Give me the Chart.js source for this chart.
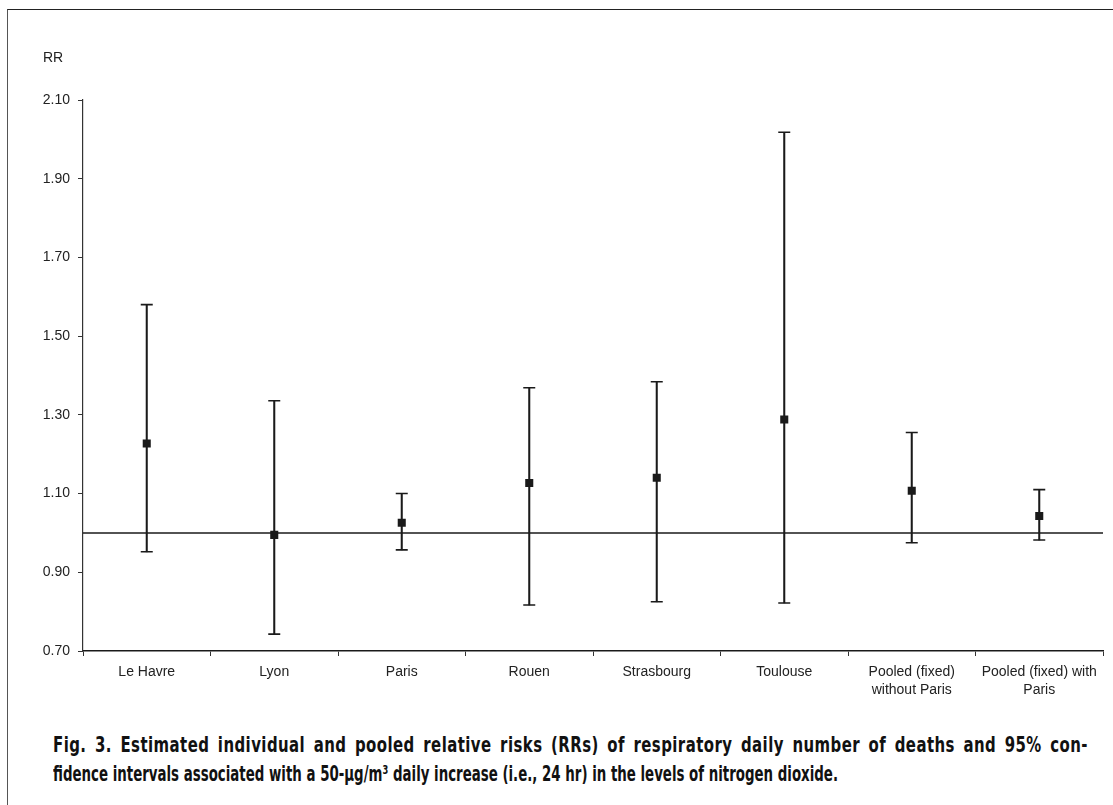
<!DOCTYPE html>
<html>
<head>
<meta charset="utf-8">
<title>Fig. 3 RR nitrogen dioxide</title>
<script src="https://cdn.jsdelivr.net/npm/chart.js@4.4.1/dist/chart.umd.min.js"></script>
<style>
  html, body { margin: 0; padding: 0; background: #fff; }
  body { width: 1113px; height: 805px; position: relative; overflow: hidden; }
  #frame { position: absolute; left: 7px; top: 9px; width: 1120px; height: 820px;
           border-top: 1.5px solid #222; border-left: 1.5px solid #555; }
  #wrap { position: absolute; left: 0; top: 0; width: 1113px; height: 720px; }
  #rr { position: absolute; left: 43px; top: 49px; font: 14px "Liberation Sans", Arial, sans-serif; color: #222; }
  .cap { position: absolute; left: 53px; white-space: nowrap; transform-origin: 0 0;
         font: bold 21px "Liberation Sans Narrow", "DejaVu Sans Condensed", "Liberation Sans", sans-serif; color: #111; }
</style>
</head>
<body>
<div id="frame"></div>
<div id="wrap"><canvas id="rrChart"></canvas></div>
<div id="rr">RR</div>
<div class="cap" id="cap1" style="top:733px">Fig. 3. Estimated individual and pooled relative risks (RRs) of respiratory daily number of deaths and 95% con-</div>
<div class="cap" id="cap2" style="top:762px">fidence intervals associated with a 50-µg/m³ daily increase (i.e., 24 hr) in the levels of nitrogen dioxide.</div>

<script>
// data
const cities = ['Le Havre', 'Lyon', 'Paris', 'Rouen', 'Strasbourg', 'Toulouse',
  ['Pooled (fixed)', 'without Paris'], ['Pooled (fixed) with', 'Paris']];
const rr    = [1.227, 0.995, 1.026, 1.127, 1.140, 1.288, 1.107, 1.043];
const lower = [0.952, 0.743, 0.957, 0.817, 0.825, 0.822, 0.975, 0.982];
const upper = [1.580, 1.336, 1.100, 1.369, 1.384, 2.018, 1.255, 1.110];
const yTicks = [0.70, 0.90, 1.10, 1.30, 1.50, 1.70, 1.90, 2.10];
const refValue = 1.0;

const ink = '#1a1a1a';

// horizontal line at RR = 1
const refLine = {
  id: 'refLine',
  beforeDatasetsDraw(chart) {
    const { ctx, chartArea, scales } = chart;
    const y = scales.y.getPixelForValue(refValue);
    ctx.save();
    ctx.strokeStyle = ink;
    ctx.lineWidth = 1.6;
    ctx.beginPath();
    ctx.moveTo(chartArea.left, y);
    ctx.lineTo(chartArea.right, y);
    ctx.stroke();
    ctx.restore();
  }
};

const ctx = document.getElementById('rrChart');
new Chart(ctx, {
  type: 'bar',
  data: {
    labels: cities,
    datasets: [
      { // marker
        type: 'line', data: rr, showLine: false,
        pointStyle: 'rect', pointRadius: 5.7, backgroundColor: ink, borderColor: ink, borderWidth: 0,
        order: 0
      },
      { // upper caps
        type: 'line', data: upper, showLine: false,
        pointStyle: 'line', pointRadius: 6, borderColor: ink, borderWidth: 1.6, order: 1
      },
      { // lower caps
        type: 'line', data: lower, showLine: false,
        pointStyle: 'line', pointRadius: 6, borderColor: ink, borderWidth: 1.6, order: 1
      },
      { // whiskers
        type: 'bar', data: lower.map((lo, i) => [lo, upper[i]]),
        barThickness: 1.4, backgroundColor: ink, borderWidth: 0, order: 2
      }
    ]
  },
  options: {
    responsive: true,
    maintainAspectRatio: false,
    animation: false,
    events: [],
    layout: { padding: { top: 100, right: 10, left: 0, bottom: 0 } },
    plugins: { legend: { display: false }, tooltip: { enabled: false } },
    scales: {
      x: {
        offset: true,
        grid: { display: true, drawOnChartArea: false, offset: true, tickLength: 5, color: '#333', lineWidth: 1 },
        border: { display: true, color: ink, width: 1.6 },
        ticks: {
          autoSkip: false, maxRotation: 0, minRotation: 0, padding: 7,
          color: '#222', font: { family: 'Liberation Sans, Arial, sans-serif', size: 14, lineHeight: 1.3 }
        },
        afterFit(scale) { scale.height = 69; }
      },
      y: {
        min: 0.7, max: 2.1,
        afterBuildTicks(scale) { scale.ticks = yTicks.map(v => ({ value: v })); },
        grid: { display: true, drawOnChartArea: false, tickLength: 5, color: '#333', lineWidth: 1 },
        border: { display: true, color: '#333', width: 1.2 },
        ticks: {
          padding: 8, color: '#222',
          font: { family: 'Liberation Sans, Arial, sans-serif', size: 14 },
          callback: v => Number(v).toFixed(2)
        },
        afterFit(scale) { scale.width = 83; }
      }
    }
  },
  plugins: [refLine]
});

// caption: line 2 is squeezed to its width in the figure; line 1 is squeezed a bit less
// and justified out to the right margin with a little letter and word spacing
const cap1 = document.getElementById('cap1');
const cap2 = document.getElementById('cap2');
const w1 = cap1.getBoundingClientRect().width;
const w2 = cap2.getBoundingClientRect().width;
const k2 = 785 / w2;
const k1 = (k2 + 1035 / w1) / 2;
const text1 = cap1.textContent;
const spaces = (text1.match(/ /g) || []).length;
const extra = 1035 / k1 - w1;
cap1.style.letterSpacing = (extra * 0.5 / text1.length) + 'px';
cap1.style.wordSpacing = (extra * 0.5 / spaces) + 'px';
cap1.style.transform = 'scaleX(' + k1 + ')';
cap2.style.transform = 'scaleX(' + k2 + ')';
</script>
</body>
</html>
